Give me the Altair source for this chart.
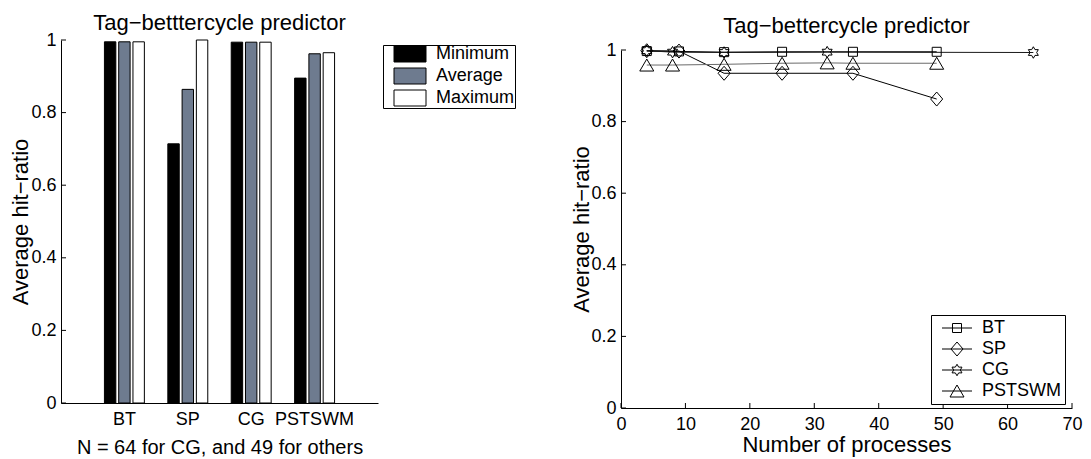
import altair as alt
import pandas as pd

FONT = "Liberation Sans"

# ---------------- left panel data ----------------
categories = ["BT", "SP", "CG", "PSTSWM"]
stat_names = ["Minimum", "Average", "Maximum"]
minimum = [0.995, 0.714, 0.994, 0.895]
average = [0.995, 0.864, 0.994, 0.962]
maximum = [0.995, 1.000, 0.994, 0.965]
bar_colors = ["#000000", "#6E7B8F", "#FFFFFF"]
y_ticks = [0, 0.2, 0.4, 0.6, 0.8, 1.0]

# ---------------- right panel data ----------------
series_names = ["BT", "SP", "CG", "PSTSWM"]
bt_procs = [4, 9, 16, 25, 36, 49]
bt_ratio = [0.997, 0.996, 0.994, 0.995, 0.995, 0.995]
sp_procs = [4, 9, 16, 25, 36, 49]
sp_ratio = [0.998, 0.997, 0.935, 0.935, 0.935, 0.863]
cg_procs = [4, 8, 16, 32, 64]
cg_ratio = [0.998, 0.994, 0.993, 0.994, 0.993]
ps_procs = [4, 8, 16, 25, 32, 36, 49]
ps_ratio = [0.958, 0.958, 0.960, 0.963, 0.964, 0.963, 0.963]
x_ticks = [0, 10, 20, 30, 40, 50, 60, 70]
line_colors = ["#000000", "#000000", "#1a1a1a", "#6a6a6a"]

# marker outlines (unit = sqrt(size)/2 px)
sq = "M-0.9,-0.9L0.9,-0.9L0.9,0.9L-0.9,0.9Z"
dia = "M0,-1.4L1.2,0L0,1.4L-1.2,0Z"
hexa = ("M0,-1.15L0.332,-0.575L0.996,-0.575L0.664,0L0.996,0.575L0.332,0.575"
        "L0,1.15L-0.332,0.575L-0.996,0.575L-0.664,0L-0.996,-0.575L-0.332,-0.575Z")
tri = "M0,-1.2L1.4,1.2L-1.4,1.2Z"
marker_paths = [sq, dia, hexa, tri]
legend_paths = ["M-3,0L3,0" + p for p in marker_paths]
rect_path = "M-3.2,-1.6L3.2,-1.6L3.2,1.6L-3.2,1.6Z"

# ---------------- tables ----------------
bar_rows = []
for i, c in enumerate(categories):
    for s, vals in zip(stat_names, [minimum, average, maximum]):
        bar_rows.append({"benchmark": c, "stat": s, "ratio": vals[i]})
bars_df = pd.DataFrame(bar_rows)

line_rows = []
for name, xs, ys in zip(series_names,
                        [bt_procs, sp_procs, cg_procs, ps_procs],
                        [bt_ratio, sp_ratio, cg_ratio, ps_ratio]):
    for xv, yv in zip(xs, ys):
        line_rows.append({"series": name, "entry": name, "procs": xv, "ratio": yv})
lines_df = pd.DataFrame(line_rows)

ytick_df = pd.DataFrame({"ratio": y_ticks})
xtick_df = pd.DataFrame({"procs": x_ticks})

# ---------------- left panel ----------------
left_y = alt.Y("ratio:Q", scale=alt.Scale(domain=[0, 1], nice=False),
               axis=alt.Axis(values=y_ticks, format="~g", title="Average hit−ratio",
                             titleFontSize=22, titleFontWeight="normal",
                             titleBaseline="alphabetic", titleX=-34,
                             labelFontSize=18, labelPadding=5, ticks=False,
                             labelFlush=False, domainColor="black"))

bars = alt.Chart(bars_df).mark_bar(stroke="black", strokeWidth=1).encode(
    x=alt.X("benchmark:N", sort=categories,
            scale=alt.Scale(paddingInner=0.37, paddingOuter=0.685),
            axis=alt.Axis(title="N = 64 for CG, and 49 for others", titleFontSize=20,
                          titleFontWeight="normal", titleBaseline="alphabetic", titleY=50,
                          labelAngle=0, labelFontSize=18, labelBaseline="alphabetic",
                          labelPadding=21, ticks=False, domainColor="black")),
    xOffset=alt.XOffset("stat:N", sort=stat_names, scale=alt.Scale(paddingInner=0.2)),
    y=left_y,
    fill=alt.Fill("stat:N", sort=stat_names,
                  scale=alt.Scale(domain=stat_names, range=bar_colors),
                  legend=alt.Legend(title=None, orient="none", legendX=322, legendY=5,
                                    symbolType=rect_path, symbolSize=100,
                                    symbolStrokeColor="black", symbolStrokeWidth=1,
                                    symbolOffset=18, labelOffset=17, labelFontSize=18,
                                    padding=0, rowPadding=2, strokeColor="black",
                                    fillColor="white")),
)
left_ticks = alt.Chart(ytick_df).mark_rule(color="black", strokeWidth=1).encode(
    y=alt.Y("ratio:Q"), x=alt.value(0), x2=alt.value(5)
)
left = alt.layer(bars, left_ticks).properties(
    width=317, height=363,
    title=alt.TitleParams("Tag−betttercycle predictor", fontSize=22, fontWeight="normal",
                          baseline="alphabetic", offset=-21, anchor="middle", frame="group"),
)

# ---------------- right panel ----------------
x_enc = alt.X("procs:Q", scale=alt.Scale(domain=[0, 70], nice=False),
              axis=alt.Axis(values=x_ticks, format="d", title="Number of processes",
                            titleFontSize=22, titleFontWeight="normal",
                            titleBaseline="alphabetic", titleY=43,
                            labelFontSize=18, labelBaseline="alphabetic", labelPadding=21,
                            labelFlush=False, ticks=False, domainColor="black"))
y_enc = alt.Y("ratio:Q", scale=alt.Scale(domain=[0, 1], range=[368, 10], nice=False),
              axis=alt.Axis(values=y_ticks, format="~g", title="Average hit−ratio",
                            titleFontSize=22, titleFontWeight="normal",
                            titleBaseline="alphabetic", titleX=-33, titleY=189,
                            labelFontSize=18, labelPadding=5, ticks=False,
                            labelFlush=False, domainColor="black"))

lines = alt.Chart(lines_df).mark_line(strokeWidth=1).encode(
    x=x_enc, y=y_enc,
    color=alt.Color("series:N", scale=alt.Scale(domain=series_names, range=line_colors),
                    legend=None),
    order="procs:Q",
)
points = alt.Chart(lines_df).mark_point(filled=False, size=100, strokeWidth=1, color="black",
                                        opacity=1).encode(
    x=x_enc, y=y_enc,
    shape=alt.Shape("series:N", scale=alt.Scale(domain=series_names, range=marker_paths),
                    legend=None),
)
legend_layer = alt.Chart(lines_df).mark_point(filled=False, size=100, strokeWidth=1,
                                              color="black", opacity=0).encode(
    x=x_enc, y=y_enc,
    shape=alt.Shape("entry:N", scale=alt.Scale(domain=series_names, range=legend_paths),
                    legend=alt.Legend(title=None, orient="none", legendX=310, legendY=275,
                                      symbolSize=100, symbolOpacity=1,
                                      symbolStrokeColor="black", symbolStrokeWidth=1,
                                      symbolFillColor="transparent",
                                      symbolOffset=13, labelOffset=16, labelFontSize=18,
                                      padding=4, rowPadding=3, strokeColor="black",
                                      fillColor="white")),
)
right_yticks = alt.Chart(ytick_df).mark_rule(color="black", strokeWidth=1).encode(
    y=alt.Y("ratio:Q"), x=alt.value(0), x2=alt.value(5)
)
right_xticks = alt.Chart(xtick_df).mark_rule(color="black", strokeWidth=1).encode(
    x=alt.X("procs:Q"), y=alt.value(368), y2=alt.value(363)
)
right = alt.layer(lines, points, legend_layer, right_yticks, right_xticks).resolve_scale(
    shape="independent"
).properties(
    width=451, height=368,
    title=alt.TitleParams("Tag−bettercycle predictor", fontSize=22, fontWeight="normal",
                          baseline="alphabetic", offset=-15, anchor="middle", frame="group"),
)

chart = alt.hconcat(left, right, spacing=243, bounds="flush").properties(
    padding={"left": 1, "top": 4, "right": 0, "bottom": 0}
).configure_view(stroke=None).configure_axis(
    labelFont=FONT, titleFont=FONT, labelColor="black", titleColor="black",
    grid=False, domainWidth=1,
).configure_legend(labelFont=FONT, labelColor="black").configure_title(
    font=FONT, color="black"
)

chart.save("out.html", embed_options={"renderer": "svg", "actions": False})
